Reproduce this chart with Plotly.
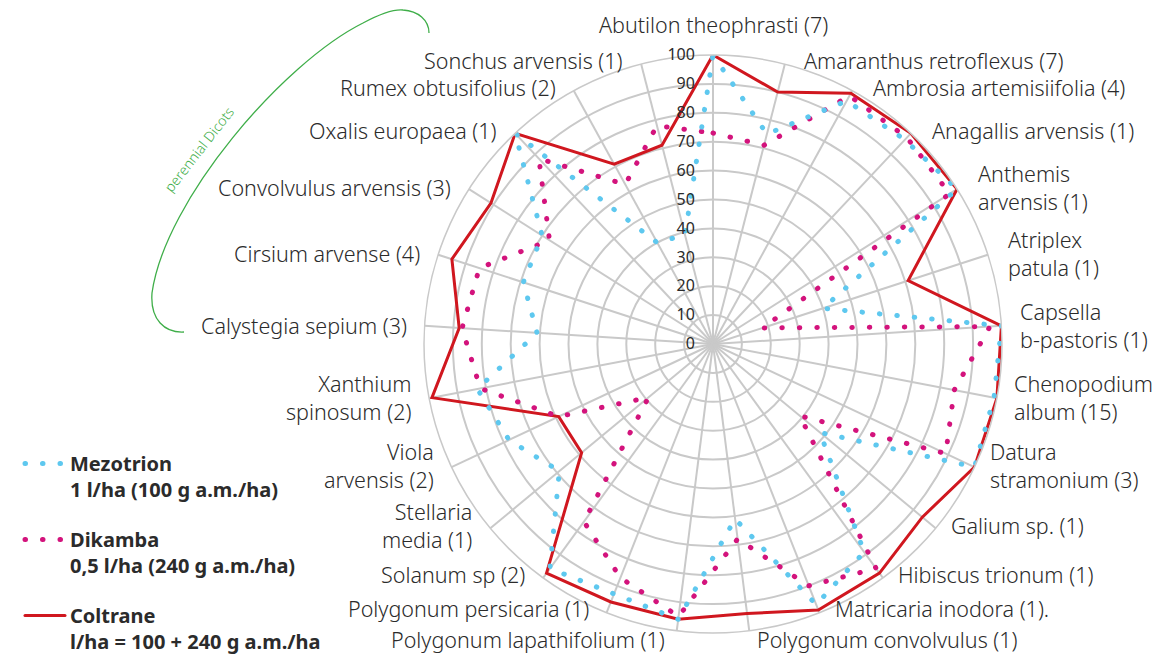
import math
import plotly.graph_objects as go

# ---------------- data ----------------
categories = [
    "Abutilon theophrasti (7)", "Amaranthus retroflexus (7)", "Ambrosia artemisiifolia (4)",
    "Anagallis arvensis (1)", "Anthemis<br>arvensis (1)", "Atriplex<br>patula (1)",
    "Capsella<br>b-pastoris (1)", "Chenopodium<br>album (15)", "Datura<br>stramonium (3)",
    "Galium sp. (1)", "Hibiscus trionum (1)", "Matricaria inodora (1).",
    "Polygonum convolvulus (1)", "Polygonum lapathifolium (1)", "Polygonum persicaria (1)",
    "Solanum sp (2)", "Stellaria<br>media (1)", "Viola<br>arvensis (2)",
    "Xanthium<br>spinosum (2)", "Calystegia sepium (3)", "Cirsium arvense (4)",
    "Convolvulus arvensis (3)", "Oxalis europaea (1)", "Rumex obtusifolius (2)",
    "Sonchus arvensis (1)",
]
coltrane = [100, 90, 99, 100, 100, 71, 100, 100, 100, 94, 98, 99, 94, 96, 96, 98, 59, 59, 99, 88, 95, 91, 100, 71, 71]
mezotrion = [100, 75, 96, 97, 100, 40, 100, 99, 100, 48, 89, 97, 61, 96, 93, 96, 69, 78, 83, 61, 69, 70, 100, 40, 39]
dikamba = [73, 71, 98, 98, 97, 18, 96, 85, 89, 39, 96, 90, 68, 95, 87, 76, 29, 59, 82, 87, 85, 67, 88, 63, 78]

names = {
    "mez": "Mezotrion<br>1 l/ha (100 g a.m./ha)",
    "dik": "Dikamba<br>0,5 l/ha (240 g a.m./ha)",
    "col": "Coltrane<br>l/ha = 100 + 240 g a.m./ha",
}
radial_ticks = list(range(0, 101, 10))

RED = "#d0171f"
BLUE = "#5ec8ef"
MAGENTA = "#d3137c"
GREEN = "#3fae49"
GRID = "#c9c9c9"
TEXT = "#2b2b2b"
FONT = "Noto Sans"

W, H = 1156, 655


def closed(vals):
    return vals + vals[:1]


theta = closed(categories)

fig = go.Figure()
fig.add_trace(go.Scatterpolar(
    r=closed(coltrane), theta=theta, mode="lines", name=names["col"], legendgroup="c",
    legendrank=3, line=dict(color=RED, width=3), hoverinfo="skip"))
fig.add_trace(go.Scatterpolar(
    r=closed(dikamba), theta=theta, mode="lines", name=names["dik"], legendgroup="b",
    legendrank=2, line=dict(color=MAGENTA, width=5, dash="0.5px,17px"), hoverinfo="skip"))
fig.add_trace(go.Scatterpolar(
    r=closed(mezotrion), theta=theta, mode="lines", name=names["mez"], legendgroup="a",
    legendrank=1, line=dict(color=BLUE, width=5, dash="0.5px,17px"), hoverinfo="skip"))

cx, cy, R = 713, 344, 289
fig.update_layout(
    width=W, height=H,
    margin=dict(l=0, r=0, t=0, b=0, autoexpand=False),
    paper_bgcolor="white",
    font=dict(family=FONT, color=TEXT, size=18),
    polar=dict(
        domain=dict(x=[(cx - R) / W, (cx + R) / W], y=[(H - cy - R) / H, (H - cy + R) / H]),
        bgcolor="white",
        radialaxis=dict(
            range=[0, 100], tickvals=radial_ticks, angle=90, side="counterclockwise",
            tickangle=90, showline=False, gridcolor=GRID, gridwidth=1.5,
            ticks="outside", ticklen=12, tickcolor="rgba(0,0,0,0)",
            tickfont=dict(size=16, color=TEXT, family=FONT),
        ),
        angularaxis=dict(
            rotation=90, direction="clockwise", gridcolor=GRID, gridwidth=1.5,
            showline=True, linecolor=GRID, linewidth=1.5, ticks="", showticklabels=False,
        ),
    ),
    legend=dict(
        x=20 / W, y=1 - 444 / H, xanchor="left", yanchor="top",
        traceorder="grouped", tracegroupgap=21, valign="top",
        font=dict(size=20, color=TEXT, family=FONT, weight=700),
        itemwidth=40, bgcolor="rgba(0,0,0,0)",
    ),
    showlegend=True,
)

# category labels placed around the outer ring (computed from category angle)
n = len(categories)
for i, lab in enumerate(categories):
    a = math.radians(i * 360 / n)
    s, c = math.sin(a), math.cos(a)
    if abs(s) < 0.05:
        x, y, xa, ya = cx, cy - R - 14, "center", "bottom"
    elif abs(c) > 0.98 and c < 0:
        x = cx + R * s + (6 if s > 0 else -10)
        y = cy - (R - 8) * c
        xa, ya = ("left" if s > 0 else "right"), "top"
    else:
        x = cx + R * s + (16 if s > 0 else -16) + (6 * c * abs(s) if s > 0 else 0)
        y = cy - (R + 4) * c if c > 0 else cy - (R - 4) * c
        xa, ya = ("left" if s > 0 else "right"), "middle"
    fig.add_annotation(text=lab, x=x / W, y=1 - y / H, xref="paper", yref="paper",
                       xanchor=xa, yanchor=ya, align=xa if xa != "center" else "center",
                       showarrow=False, font=dict(size=21.5, color=TEXT, family=FONT, weight=300))


def px(x, y):
    return f"{x / W:.5f},{1 - y / H:.5f}"


arc = (f"M {px(184, 332)} C {px(165, 333)} {px(150, 320)} {px(152, 293)} "
       f"C {px(165, 200)} {px(283, 63)} {px(363, 23)} "
       f"C {px(378, 15)} {px(392, 9)} {px(403, 10)} "
       f"C {px(418, 11)} {px(429, 20)} {px(429, 33)}")
fig.add_shape(type="path", path=arc, xref="paper", yref="paper",
              line=dict(color=GREEN, width=1.3))
fig.add_annotation(text="perennial Dicots", x=199 / W, y=1 - 150 / H, xref="paper", yref="paper",
                   xanchor="center", yanchor="middle", showarrow=False, textangle=-52,
                   font=dict(size=14, color=GREEN, family=FONT, weight=300))

post = """
document.body.style.margin='0';
var s=document.createElement('style');
s.textContent='.scatterlayer .js-line, .legendlines path, .legend path.js-line {stroke-linecap:round !important;}';
document.head.appendChild(s);
"""
fig.write_html("out.html", post_script=post, config={"displayModeBar": False})
